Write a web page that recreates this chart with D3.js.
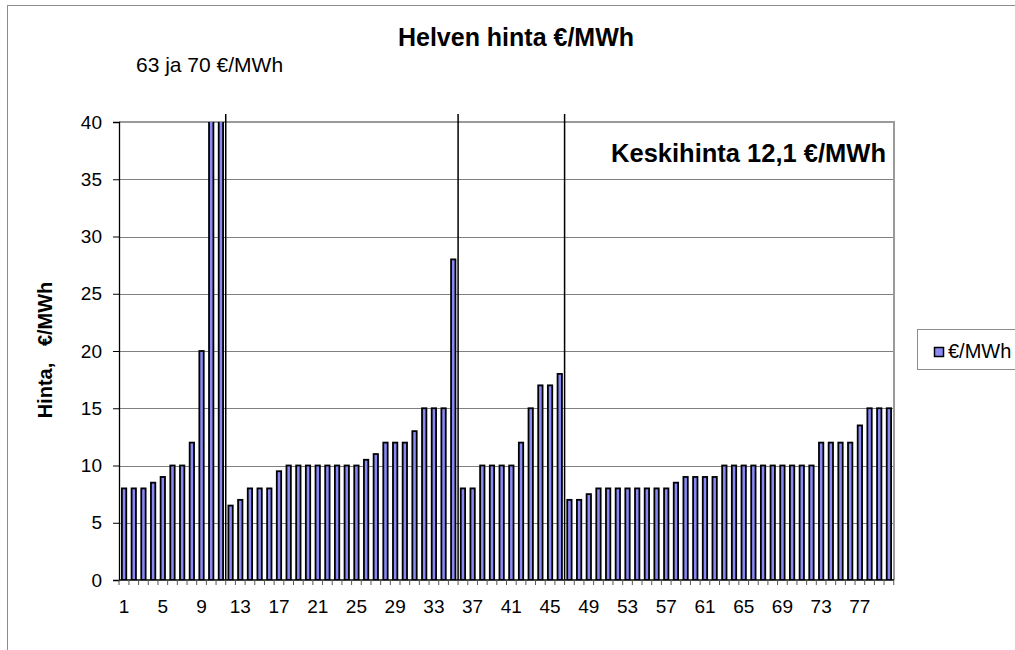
<!DOCTYPE html>
<html>
<head>
<meta charset="utf-8">
<script src="https://cdn.jsdelivr.net/npm/d3@7.9.0/dist/d3.min.js"></script>
<style>
  body { margin: 0; background: #fff; }
  svg { font-family: Arial, "Liberation Sans", sans-serif; }
</style>
</head>
<body>
<div id="chart"></div>
<script>
// hourly price, €/MWh (hours 10 and 11 go off the scale: 63 and 70)
const hours = d3.range(1, 81);
const prices = [
  8, 8, 8, 8.5, 9, 10, 10, 12, 20, 63,
  70, 6.5, 7, 8, 8, 8, 9.5, 10, 10, 10,
  10, 10, 10, 10, 10, 10.5, 11, 12, 12, 12,
  13, 15, 15, 15, 28, 8, 8, 10, 10, 10,
  10, 12, 15, 17, 17, 18, 7, 7, 7.5, 8,
  8, 8, 8, 8, 8, 8, 8, 8.5, 9, 9,
  9, 9, 10, 10, 10, 10, 10, 10, 10, 10,
  10, 10, 12, 12, 12, 12, 13.5, 15, 15, 15
];
const yTicks = [0, 5, 10, 15, 20, 25, 30, 35, 40];
const xLabelHours = hours.filter(h => (h - 1) % 4 === 0);
// separator lines drawn after these hours
const separatorsAfter = [11, 35, 46];

const W = 1015, H = 650;
const plot = {left: 119, right: 894, top: 122, bottom: 580};
const barFill = "#8a8af6";

const svg = d3.select("#chart").append("svg")
    .attr("width", W)
    .attr("height", H);

// chart border (runs off the right and bottom edges)
svg.append("rect")
    .attr("x", 7.5).attr("y", 5.5)
    .attr("width", W + 10).attr("height", H + 10)
    .attr("fill", "#fff")
    .attr("stroke", "#8c8c8c");

const x = d3.scaleBand()
    .domain(hours)
    .range([plot.left, plot.right])
    .paddingInner(0.55)
    .paddingOuter(0.3);

const y = d3.scaleLinear()
    .domain([0, 40])
    .range([plot.bottom, plot.top]);

// gridlines
svg.append("g")
    .selectAll("line")
    .data(yTicks.filter(t => t > 0 && t < 40))
    .join("line")
    .attr("x1", plot.left).attr("x2", plot.right)
    .attr("y1", d => Math.round(y(d)) + 0.5)
    .attr("y2", d => Math.round(y(d)) + 0.5)
    .attr("stroke", "#808080");

// plot border top and right
svg.append("path")
    .attr("d", `M${plot.left},${plot.top}H${plot.right}V${plot.bottom}`)
    .attr("fill", "none")
    .attr("stroke", "#9a9a9a")
    .attr("stroke-width", 2);

// bars, clipped at the top of the plot
svg.append("clipPath").attr("id", "plotclip")
  .append("rect")
    .attr("x", plot.left).attr("y", plot.top)
    .attr("width", plot.right - plot.left)
    .attr("height", plot.bottom - plot.top);

svg.append("g")
    .attr("clip-path", "url(#plotclip)")
    .selectAll("rect")
    .data(prices)
    .join("rect")
    .attr("x", (d, i) => x(hours[i]))
    .attr("y", d => y(Math.min(d, 41)))
    .attr("width", x.bandwidth())
    .attr("height", d => y(0) - y(Math.min(d, 41)))
    .attr("fill", barFill)
    .attr("stroke", "#000")
    .attr("stroke-width", 1.8);

// separator lines
const pad = (x.step() - x.bandwidth()) / 2;
svg.append("g")
    .selectAll("line")
    .data(separatorsAfter)
    .join("line")
    .attr("x1", d => x(d) + x.bandwidth() + pad)
    .attr("x2", d => x(d) + x.bandwidth() + pad)
    .attr("y1", 114)
    .attr("y2", plot.bottom)
    .attr("stroke", "#000")
    .attr("stroke-width", 1.5);

// y axis
const yAxis = svg.append("g")
    .attr("transform", `translate(${plot.left},0)`)
    .call(d3.axisLeft(y).tickValues(yTicks).tickSize(6).tickPadding(11));
yAxis.select(".domain").attr("stroke", "#000").attr("stroke-width", 1.3);
yAxis.selectAll(".tick line").attr("stroke", "#000");
yAxis.selectAll("text").attr("font-size", 19).attr("fill", "#000").attr("font-family", "Arial, 'Liberation Sans', sans-serif");

// x axis: ticks between categories, labels every 4th hour
const xAxisG = svg.append("g")
    .attr("transform", `translate(0,${plot.bottom})`);
xAxisG.append("line")
    .attr("x1", plot.left).attr("x2", plot.right)
    .attr("stroke", "#000").attr("stroke-width", 1.3);
xAxisG.selectAll("line.tk")
    .data(hours.concat([0]))
    .join("line")
    .attr("class", "tk")
    .attr("x1", d => d === 0 ? plot.left : x(d) + x.bandwidth() + pad)
    .attr("x2", d => d === 0 ? plot.left : x(d) + x.bandwidth() + pad)
    .attr("y1", 0).attr("y2", 5)
    .attr("stroke", "#555");
xAxisG.selectAll("text")
    .data(xLabelHours)
    .join("text")
    .attr("x", d => x(d) + x.bandwidth() / 2)
    .attr("y", 33)
    .attr("text-anchor", "middle")
    .attr("font-size", 19)
    .text(d => d);

// titles
svg.append("text")
    .attr("x", 516).attr("y", 46)
    .attr("text-anchor", "middle")
    .attr("font-size", 25).attr("font-weight", "bold")
    .text("Helven hinta €/MWh");

svg.append("text")
    .attr("x", 136).attr("y", 72)
    .attr("font-size", 21)
    .text("63 ja 70 €/MWh");

svg.append("text")
    .attr("x", 886).attr("y", 162)
    .attr("text-anchor", "end")
    .attr("font-size", 25.5).attr("font-weight", "bold")
    .text("Keskihinta 12,1 €/MWh");

svg.append("text")
    .attr("transform", "translate(52,350) rotate(-90)")
    .attr("text-anchor", "middle")
    .attr("font-size", 20).attr("font-weight", "bold")
    .attr("xml:space", "preserve")
    .style("white-space", "pre")
    .text("Hinta,   €/MWh");

// legend
const legend = svg.append("g").attr("transform", "translate(917,329)");
legend.append("rect")
    .attr("x", 0.5).attr("y", 0.5)
    .attr("width", 110).attr("height", 40)
    .attr("fill", "#fff")
    .attr("stroke", "#8c8c8c");
legend.append("rect")
    .attr("x", 17.5).attr("y", 18.5)
    .attr("width", 9).attr("height", 9)
    .attr("fill", barFill)
    .attr("stroke", "#000")
    .attr("stroke-width", 1.5);
legend.append("text")
    .attr("x", 31).attr("y", 29)
    .attr("font-size", 20)
    .text("€/MWh");
</script>
</body>
</html>
